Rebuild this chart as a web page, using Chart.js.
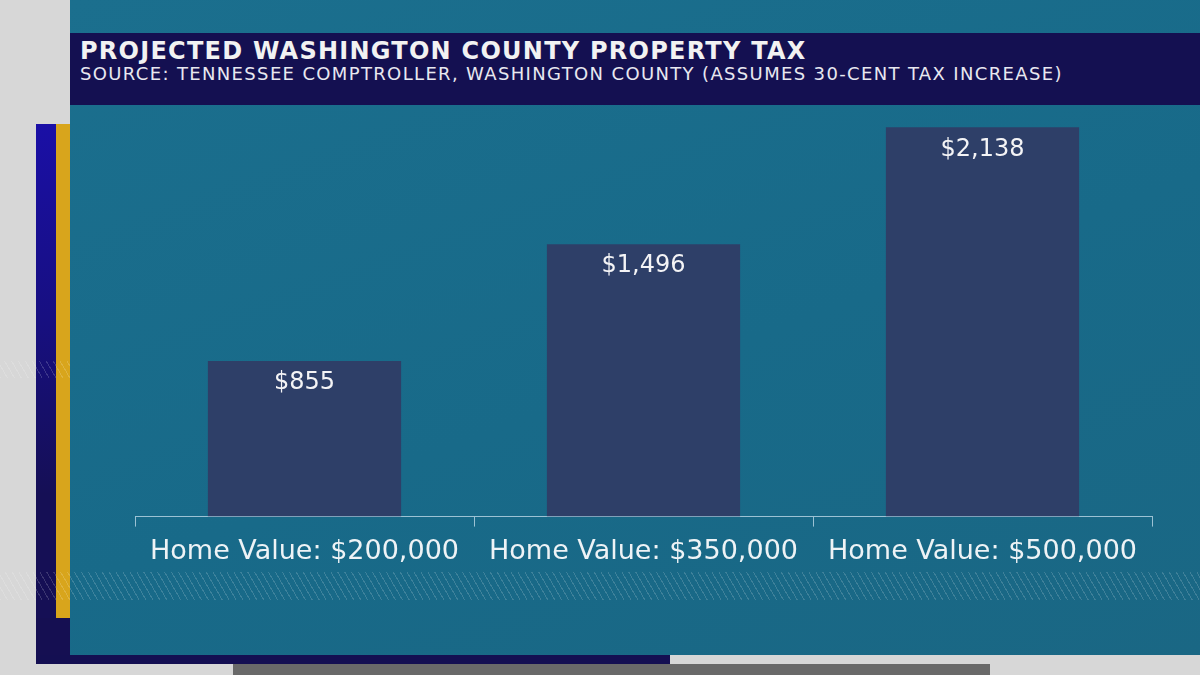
<!DOCTYPE html>
<html>
<head>
<meta charset="utf-8">
<script src="https://cdn.jsdelivr.net/npm/chart.js@4.4.1/dist/chart.umd.min.js"></script>
<style>
  html, body { margin: 0; padding: 0; }
  body { width: 1200px; height: 675px; position: relative; overflow: hidden; background: #d7d7d7; font-family: "DejaVu Sans", sans-serif; }
  .abs { position: absolute; }
  #panel { left: 70px; top: 0; width: 1130px; height: 655px; background: linear-gradient(160deg, #1b6f8e 0%, #186a89 55%, #1a6784 100%); }
  #frame { left: 36px; top: 124px; width: 34px; height: 540px; background: #150f52; }
  #blueBar { left: 36px; top: 124px; width: 20px; height: 494px; background: linear-gradient(180deg, #1a0fa6 0%, #170f80 40%, #150f55 75%); }
  #goldBar { left: 56px; top: 124px; width: 14px; height: 494px; background: #d8a51c; }
  #navyBottom { left: 36px; top: 655px; width: 634px; height: 9px; background: #140f52; }
  #grayBottom { left: 233px; top: 664px; width: 757px; height: 11px; background: #696969; }
  .hatch { background: repeating-linear-gradient(60deg, rgba(255,255,255,0.16) 0px, rgba(255,255,255,0.16) 1px, transparent 1px, transparent 6px); }
  #hatch1 { left: 0; top: 572px; width: 1200px; height: 28px; }
  #hatch2 { left: 0; top: 361px; width: 70px; height: 17px; }
  #band { left: 70px; top: 33px; width: 1130px; height: 72px; background: #141051; }
  #title { left: 80px; top: 36px; color: #f2f2f2; font-weight: 700; font-size: 24px; line-height: 30px; white-space: nowrap; letter-spacing: 1.25px; }
  #subtitle { left: 80px; top: 63px; color: #e8e8f0; font-size: 18px; line-height: 22px; white-space: nowrap; letter-spacing: 1.35px; }
  #chartBox { left: 0; top: 0; width: 1200px; height: 675px; }
</style>
</head>
<body>
<div id="panel" class="abs"></div>
<div id="frame" class="abs"></div>
<div id="blueBar" class="abs"></div>
<div id="goldBar" class="abs"></div>
<div id="navyBottom" class="abs"></div>
<div id="grayBottom" class="abs"></div>
<div id="hatch1" class="abs hatch"></div>
<div id="hatch2" class="abs hatch"></div>
<div id="band" class="abs"></div>
<div id="title" class="abs">PROJECTED WASHINGTON COUNTY PROPERTY TAX</div>
<div id="subtitle" class="abs">SOURCE: TENNESSEE COMPTROLLER, WASHINGTON COUNTY (ASSUMES 30-CENT TAX INCREASE)</div>
<div id="chartBox" class="abs"><canvas id="taxChart" width="1200" height="675"></canvas></div>

<script>
// data
const homeValues = ['Home Value: $200,000', 'Home Value: $350,000', 'Home Value: $500,000'];
const taxAmounts = [855, 1496, 2138];
const yMax = 2200;

function money(v) {
    return '$' + v.toLocaleString('en-US');
}

// writes the dollar amount just inside the top of each bar
const barLabels = {
    id: 'barLabels',
    afterDatasetsDraw(chart) {
        const ctx = chart.ctx;
        const meta = chart.getDatasetMeta(0);
        ctx.save();
        ctx.fillStyle = '#f4f4f6';
        ctx.font = '24px "DejaVu Sans", sans-serif';
        ctx.textAlign = 'center';
        ctx.textBaseline = 'middle';
        meta.data.forEach(function (bar, i) {
            ctx.fillText(money(taxAmounts[i]), bar.x, bar.y + 22);
        });
        ctx.restore();
    }
};

document.addEventListener("DOMContentLoaded", function () {
    const ctx = document.getElementById('taxChart').getContext('2d');
    new Chart(ctx, {
        type: 'bar',
        data: {
            labels: homeValues,
            datasets: [{
                data: taxAmounts,
                backgroundColor: '#2e3f68',
                borderWidth: 0,
                barPercentage: 0.57,
                categoryPercentage: 1.0
            }]
        },
        options: {
            responsive: false,
            animation: false,
            layout: { padding: { left: 135, right: 48, top: 116, bottom: 98 } },
            plugins: {
                legend: { display: false },
                tooltip: { enabled: false }
            },
            scales: {
                x: {
                    offset: true,
                    grid: {
                        offset: true,
                        drawOnChartArea: false,
                        drawTicks: true,
                        tickLength: 10,
                        color: '#9cc2d4',
                        lineWidth: 1
                    },
                    border: { display: true, color: '#9cc2d4', width: 1 },
                    ticks: {
                        color: '#eef3f6',
                        font: { family: '"DejaVu Sans", sans-serif', size: 27 },
                        padding: 9,
                        maxRotation: 0,
                        autoSkip: false
                    }
                },
                y: {
                    display: false,
                    min: 0,
                    max: yMax
                }
            }
        },
        plugins: [barLabels]
    });
});
</script>
</body>
</html>
